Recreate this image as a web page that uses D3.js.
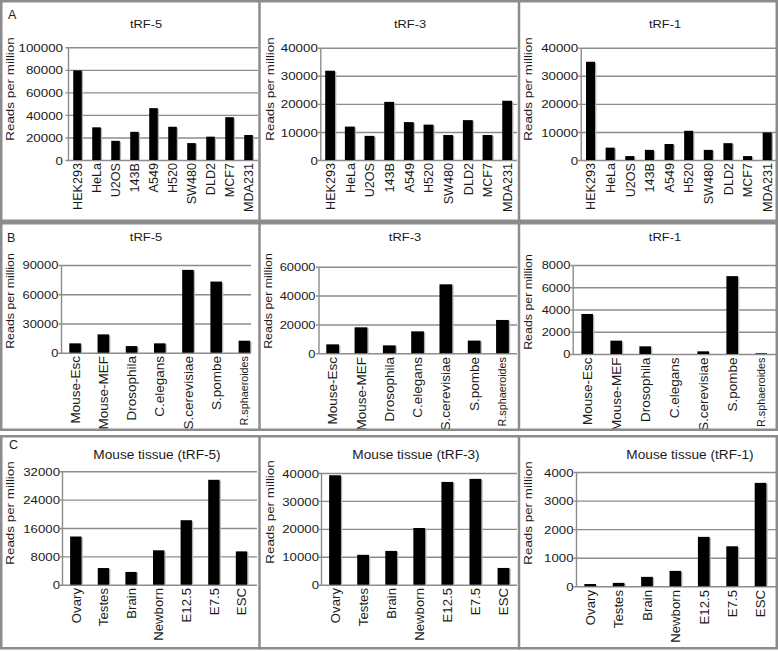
<!DOCTYPE html>
<html><head><meta charset="utf-8">
<script src="https://cdn.jsdelivr.net/npm/d3@7"></script>
<style>
body{margin:0;background:#fff}
svg{display:block}
text{font-family:"Liberation Sans",Arial,Helvetica,sans-serif;fill:#1a1a1a}
</style>
</head><body>
<svg id="chart" width="778" height="651"></svg>
<script>
// ---------- DATA ----------
const cellLines = ["HEK293","HeLa","U2OS","143B","A549","H520","SW480","DLD2","MCF7","MDA231"];
const cellTRF5 = [79500, 29000, 17000, 25000, 46000, 29500, 15000, 20700, 38000, 22200];
const cellTRF3 = [31800, 11900, 8600, 20700, 13500, 12600, 8900, 14200, 8900, 21100];
const cellTRF1 = [35000, 4400, 1400, 3600, 5700, 10400, 3600, 6000, 1400, 9800];

const organisms = ["Mouse-Esc","Mouse-MEF","Drosophila","C.elegans","S.cerevisiae","S.pombe","R.sphaeroides"];
const orgTRF5 = [9600, 18800, 6800, 9600, 85000, 73000, 12300];
const orgTRF3 = [6200, 18000, 5500, 15200, 47800, 8800, 23100];
const orgTRF1 = [3600, 1200, 690, 0, 240, 7000, 60];

const tissues = ["Ovary","Testes","Brain","Newborn","E12.5","E7.5","ESC"];
const tisTRF5 = [13600, 4700, 3600, 9700, 18200, 29600, 9400];
const tisTRF3 = [39200, 10700, 12100, 20300, 36800, 37900, 6000];
const tisTRF1 = [80, 120, 330, 540, 1730, 1400, 3620];

const ticksA1 = [0, 20000, 40000, 60000, 80000, 100000];
const ticksA2 = [0, 10000, 20000, 30000, 40000];
const ticksA3 = [0, 10000, 20000, 30000, 40000];
const ticksB1 = [0, 30000, 60000, 90000];
const ticksB2 = [0, 20000, 40000, 60000];
const ticksB3 = [0, 2000, 4000, 6000, 8000];
const ticksC1 = [0, 8000, 16000, 24000, 32000];
const ticksC2 = [0, 10000, 20000, 30000, 40000];
const ticksC3 = [0, 1000, 2000, 3000, 4000];

const titlesRowA = ["tRF-5", "tRF-3", "tRF-1"];
const titlesRowB = ["tRF-5", "tRF-3", "tRF-1"];
const titlesRowC = ["Mouse tissue (tRF-5)", "Mouse tissue (tRF-3)", "Mouse tissue (tRF-1)"];
const yTitle = "Reads per million";
const rowLetters = ["A", "B", "C"];

// ---------- LAYOUT ----------
const rowStyle = {
  A: {title:11.5, titleSx:1.12, tick:11.4, tickSx:1.17, xl:12.6, xlCross:1.05, yt:13.4, ytCross:0.88},
  B: {title:11.8, titleSx:1.1, tick:11, tickSx:1.17, xl:13.5, xlCross:0.95, yt:12.4, ytCross:0.95},
  C: {title:13, titleSx:1.05, tick:11.3, tickSx:1.17, xl:13.2, xlCross:1.0, yt:13.4, ytCross:0.88}
};
const panels = [
  {row:"A", cats:cellLines, vals:cellTRF5, ticks:ticksA1, title:titlesRowA[0], box:[0,0,259.5,222], l:68, r:258, gr:258, top:47.3, bot:160, ratio:0.45, tx:146, ty:28, yx:10, yy:89, pad:5, xlTop:163},
  {row:"A", cats:cellLines, vals:cellTRF3, ticks:ticksA2, title:titlesRowA[1], box:[259.5,0,518.5,222], l:320.3, r:517, gr:517, top:47.7, bot:160, ratio:0.5, tx:410, ty:28, yx:270, yy:89, pad:2.5, xlTop:163},
  {row:"A", cats:cellLines, vals:cellTRF1, ticks:ticksA3, title:titlesRowA[2], box:[518.5,0,778,222], l:580.7, r:777, gr:777, top:47.7, bot:160, ratio:0.46, tx:665, ty:28, yx:528, yy:89, pad:2.5, xlTop:163},
  {row:"B", cats:organisms, vals:orgTRF5, ticks:ticksB1, title:titlesRowB[0], box:[0,222,259.5,431], l:61, r:258.5, gr:251, top:265, bot:352.7, ratio:0.41, tx:146, ty:241, yx:10, yy:301, pad:2.7, xlTop:356},
  {row:"B", cats:organisms, vals:orgTRF3, ticks:ticksB2, title:titlesRowB[1], box:[259.5,222,518.5,431], l:318.5, r:516.6, gr:517, top:266.7, bot:353.3, ratio:0.45, tx:405, ty:241, yx:268, yy:301, pad:3, xlTop:357},
  {row:"B", cats:organisms, vals:orgTRF1, ticks:ticksB3, title:titlesRowB[2], box:[518.5,222,778,431], l:572.7, r:775.7, gr:777, top:265, bot:354, ratio:0.4, tx:665, ty:241, yx:528, yy:302, pad:2.4, xlTop:357.5},
  {row:"C", cats:tissues, vals:tisTRF5, ticks:ticksC1, title:titlesRowC[0], box:[0,435,259.5,649.5], l:62, r:255.3, gr:257, top:471.3, bot:584.7, ratio:0.41, tx:157, ty:459, yx:10, yy:513, pad:2, xlTop:588},
  {row:"C", cats:tissues, vals:tisTRF3, ticks:ticksC2, title:titlesRowC[1], box:[259.5,435,518.5,649.5], l:321, r:517.5, gr:517, top:473, bot:584.7, ratio:0.42, tx:416, ty:459, yx:270, yy:512, pad:2, xlTop:588},
  {row:"C", cats:tissues, vals:tisTRF1, ticks:ticksC3, title:titlesRowC[2], box:[518.5,435,778,649.5], l:576, r:774.7, gr:777, top:472, bot:586.3, ratio:0.41, tx:690, ty:459, yx:528, yy:513, pad:2.5, xlTop:590}
];
const letterPos = [[8,18.5],[7,242],[9,448.5]];

const svg = d3.select("#chart");
const defs = svg.append("defs");
const gridColor = "#8c8c8c";

panels.forEach((p, i) => {
  const st = rowStyle[p.row];
  const [x0, y0, x1, y1] = p.box;
  defs.append("clipPath").attr("id", "clip" + i)
    .append("rect").attr("x", x0 + 1.2).attr("y", y0 + 1.2).attr("width", x1 - x0 - 2.4).attr("height", y1 - y0 - 2.4);
  const g = svg.append("g").attr("clip-path", `url(#clip${i})`);

  const y = d3.scaleLinear().domain([0, d3.max(p.ticks)]).range([p.bot, p.top]);
  const x = d3.scaleBand().domain(p.cats).range([p.l, p.r])
    .paddingInner(1 - p.ratio).paddingOuter((1 - p.ratio) / 2);

  // gridlines + y axis
  const ax = g.append("g").attr("transform", `translate(${p.l},0)`)
    .call(d3.axisLeft(y).tickValues(p.ticks).tickSizeInner(-(p.gr - p.l)).tickSizeOuter(0).tickPadding(0).tickFormat(d3.format("d")));
  ax.selectAll("line").attr("stroke", gridColor).attr("stroke-width", 1.4);
  ax.select(".domain").attr("stroke", gridColor).attr("stroke-width", 1.4);
  ax.selectAll(".tick").append("line").attr("x1", -2.5).attr("x2", 0).attr("stroke", gridColor).attr("stroke-width", 1.4);
  ax.selectAll("text")
    .attr("x", null).attr("dy", "0.36em")
    .attr("transform", `translate(${-p.pad},0) scale(${st.tickSx},1)`)
    .style("font-size", st.tick + "px").attr("fill", "#1a1a1a")
    .style("font-family", '"Liberation Sans",Arial,sans-serif');

  // bars
  g.selectAll("rect.shadow").data(p.vals).join("rect").attr("class", "shadow")
    .attr("x", (d, k) => x(p.cats[k]) + 1.3)
    .attr("y", d => y(d) + 1)
    .attr("width", x.bandwidth())
    .attr("height", d => Math.max(0, y(0) - y(d) - 1))
    .attr("fill", "#b0b0b0");
  g.selectAll("rect.bar").data(p.vals).join("rect").attr("class", "bar")
    .attr("x", (d, k) => x(p.cats[k]))
    .attr("y", d => y(d))
    .attr("width", x.bandwidth())
    .attr("height", d => Math.max(0, y(0) - y(d)))
    .attr("fill", "#000");

  // x labels
  g.selectAll("text.xl").data(p.cats).join("text").attr("class", "xl")
    .attr("transform", d => `translate(${x(d) + x.bandwidth() / 2},${p.xlTop}) scale(${st.xlCross},1) rotate(-90)`)
    .attr("text-anchor", "end").attr("dy", "0.36em")
    .style("font-size", d => (d === "R.sphaeroides" ? 10.8 : st.xl) + "px")
    .text(d => d);

  // title
  g.append("text").attr("transform", `translate(${p.tx},${p.ty}) scale(${st.titleSx},1)`)
    .attr("text-anchor", "middle").style("font-size", st.title + "px").text(p.title);

  // y title
  g.append("text").attr("transform", `translate(${p.yx},${p.yy}) scale(${st.ytCross},1) rotate(-90)`)
    .attr("text-anchor", "middle").attr("dy", "0.36em").style("font-size", st.yt + "px").text(yTitle);
});

// row letters
rowLetters.forEach((L, i) => {
  svg.append("text").attr("x", letterPos[i][0]).attr("y", letterPos[i][1])
    .style("font-size", "12.5px").text(L);
});

// frames
const fr = svg.append("g").attr("fill", "none").attr("stroke", gridColor).attr("stroke-width", 2.5);
[[0,222],[222,431],[435,649.5]].forEach(([a, b]) => {
  fr.append("rect").attr("x", 1.25).attr("y", a + 1.25).attr("width", 775.5).attr("height", b - a - 2.5);
  [259.5, 519].forEach(vx => fr.append("line").attr("x1", vx).attr("x2", vx).attr("y1", a).attr("y2", b));
});
</script>
</body></html>
